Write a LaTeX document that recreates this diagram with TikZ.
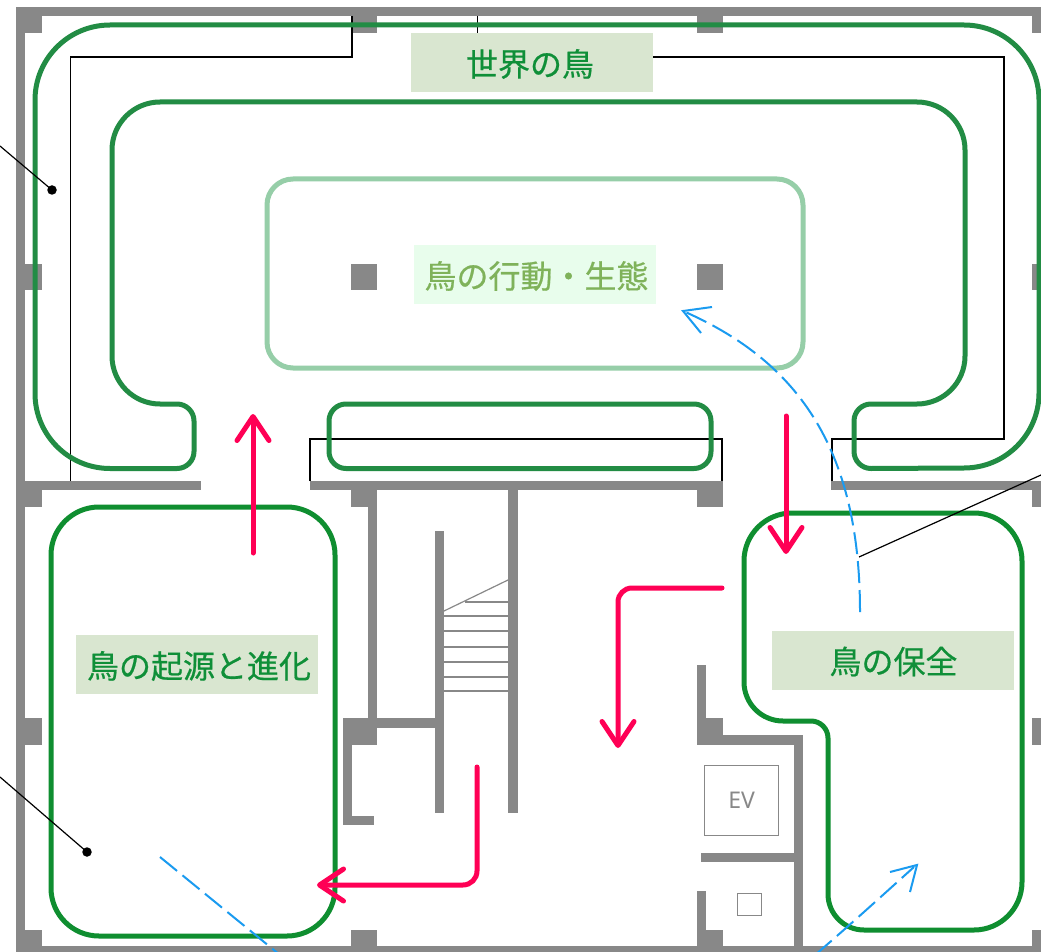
\documentclass[tikz,border=0pt]{standalone}
\usepackage{fontspec}
\usetikzlibrary{arrows.meta}
\newfontfamily\cjkf[FakeBold=0.6]{Noto Sans CJK JP}
\newfontfamily\evf{Noto Sans}
\definecolor{wall}{HTML}{888888}
\definecolor{gouter}{HTML}{228C44}
\definecolor{glower}{HTML}{0F8E30}
\definecolor{glight}{HTML}{96CEA8}
\definecolor{labelbg}{HTML}{D9E6D0}
\definecolor{labeltx}{HTML}{0F8F38}
\definecolor{softbg}{HTML}{E8FDEC}
\definecolor{softtx}{HTML}{7FB25A}
\definecolor{redarrow}{HTML}{FF0055}
\definecolor{bluearrow}{HTML}{1A9BF0}
\tikzset{
  wallpart/.style={fill=wall,draw=none},
  thinline/.style={draw=black,line width=1.2pt},
  stairline/.style={draw=wall,line width=1.2pt},
  greybox/.style={draw=wall,line width=1.2pt},
  zoneA/.style={draw=gouter,line width=5pt},
  zoneB/.style={draw=glower,line width=5pt},
  zoneC/.style={draw=glight,line width=5pt},
  redpath/.style={draw=redarrow,line width=5pt,line cap=round,rounded corners=14pt,
     -{Straight Barb[length=24pt,width=32pt,round,line width=5pt]}},
  bluepath/.style={draw=bluearrow,line width=2pt,dash pattern=on 22pt off 7pt},
  bluehead/.style={draw=bluearrow,line width=2pt},
  labelbox/.style={fill=labelbg,minimum width=242pt,minimum height=59pt,inner sep=0pt},
  softbox/.style={labelbox,fill=softbg},
  labeltext/.style={text=labeltx,inner sep=0pt,font=\cjkf\fontsize{32}{32}\selectfont},
  softtext/.style={labeltext,text=softtx},
  dotmark/.style={fill=black,circle,inner sep=0pt,minimum size=9.5pt},
}
\begin{document}
\begin{tikzpicture}[x=1pt,y=-1pt]
\useasboundingbox (0,0) rectangle (1041,952);
\fill[white] (0,0) rectangle (1041,952);
% walls
\foreach \a/\b/\c/\d in {
 16/7/1041/16.5, 16/7/25/952, 16/946/1041/952,
 16/7/42/33, 352/7/377/33, 697/7/723/33, 1032/7/1041/33,
 16/264/42/290, 351/264/377/290, 697/264/723/290, 1032/264/1041/290,
 16/481/201/490, 310/481/723/490, 831/481/1041/490,
 16/481/42/507, 351/481/377/507, 697/481/723/507, 1032/481/1041/507,
 368/507/377/718, 351/718/377/745, 343/718/352/825, 343/816/374/825,
 377/718/435/728, 435/531/444/813, 508/490/518/813,
 16/718/42/745, 1032/718/1041/745,
 16/930/42/952, 351/930/377/952, 697/930/723/952, 1032/930/1041/952,
 697/665/706/718, 697/718/723/745, 723/735/803/745, 794/735/803/946,
 701/853/794/862, 697/891/706/930}
 {\fill[wallpart] (\a,\b) rectangle (\c,\d);}
% stairs
\draw[stairline] (444,611) -- (508,580);
\draw[stairline] (465,602) -- (508,602);
\foreach \y in {616,631,647,662,677,691}{\draw[stairline] (444,\y) -- (508,\y);}
% lift boxes
\node[greybox,minimum width=74pt,minimum height=70pt,inner sep=0pt,anchor=north west,text=wall,
  font=\evf\fontsize{23}{23}\selectfont] (ev) at (704,765) {EV};
\node[greybox,minimum width=24pt,minimum height=22pt,inner sep=0pt,anchor=north west] (shaft) at (737,893) {};
% thin plan lines
\draw[thinline] (352,16) -- (352,57) -- (70.5,57) -- (70.5,481);
\draw[thinline] (477.5,16) -- (477.5,33);
\draw[thinline] (653,57) -- (1004,57) -- (1004,439) -- (832,439) -- (832,481);
\draw[thinline] (310,481) -- (310,439) -- (722,439) -- (722,481);
% zones
\draw[zoneA] (110,25) -- (964,25) arc[start angle=-90,end angle=0,radius=75]
  -- (1039,393) arc[start angle=0,end angle=90,radius=75]
  -- (871,468.5) arc[start angle=90,end angle=180,radius=17]
  -- (854,421) arc[start angle=180,end angle=270,radius=17]
  -- (917,404) arc[start angle=90,end angle=0,radius=48]
  -- (965,150) arc[start angle=0,end angle=-90,radius=48]
  -- (160,102) arc[start angle=-90,end angle=-180,radius=48]
  -- (112,356) arc[start angle=180,end angle=90,radius=48]
  -- (177,404) arc[start angle=-90,end angle=0,radius=17]
  -- (194,451.5) arc[start angle=0,end angle=90,radius=17]
  -- (110,468.5) arc[start angle=90,end angle=180,radius=75]
  -- (35,100) arc[start angle=180,end angle=270,radius=75] -- cycle;
\draw[zoneA,rounded corners=17pt] (329,404) rectangle (711,468.5);
\draw[zoneC,rounded corners=26pt] (267,179) rectangle (803,368);
\draw[zoneB,rounded corners=48pt] (51,507) rectangle (335,936);
\draw[zoneB] (792,513) -- (974,513) arc[start angle=-90,end angle=0,radius=48]
  -- (1022,882) arc[start angle=0,end angle=90,radius=48]
  -- (864,930) arc[start angle=90,end angle=180,radius=36]
  -- (828,738) arc[start angle=0,end angle=-90,radius=17]
  -- (783,721) arc[start angle=90,end angle=180,radius=39]
  -- (744,561) arc[start angle=180,end angle=270,radius=48] -- cycle;
% labels
\node[labelbox] (world) at (532,62.5) {};
\node[labeltext] (worldt) at (530,64) {世界の鳥};
\node[softbox] (behave) at (535,274.5) {};
\node[softtext] (behavet) at (536.5,276) {鳥の行動・生態};
\node[labelbox] (origin) at (197,664.5) {};
\node[labeltext] (origint) at (199,666) {鳥の起源と進化};
\node[labelbox] (conserve) at (893,660.5) {};
\node[labeltext] (conservet) at (893.5,661.5) {鳥の保全};
% leader lines
\node[dotmark] (d1) at (52,190) {};
\node[dotmark] (d2) at (87,852) {};
\coordinate (l1) at (0,146);
\coordinate (l2) at (0,777);
\coordinate (l3) at (1041,475);
\coordinate (l3e) at (859,557);
\draw[thinline] (l1) -- (d1.center);
\draw[thinline] (l2) -- (d2.center);
\draw[thinline] (l3) -- (l3e);
% blue routes
\draw[bluepath] (860,612) .. controls (860,445) and (795,360) .. (683,311);
\draw[bluehead] (712,307) -- (683,311) -- (701,333);
\draw[bluepath] (160,857) -- (280,955);
\draw[bluepath] (815,955) .. controls (850,925) and (885,893) .. (914,867);
\draw[bluehead] (890,872) -- (917,865) -- (910,892);
% red routes
\draw[redpath] (253,553) -- (253,414);
\draw[redpath] (786,416) -- (786,554);
\draw[redpath] (722,588) -- (618,588) -- (618,748);
\draw[redpath] (477,767) -- (477,885) -- (317,885);
\end{tikzpicture}
\end{document}
